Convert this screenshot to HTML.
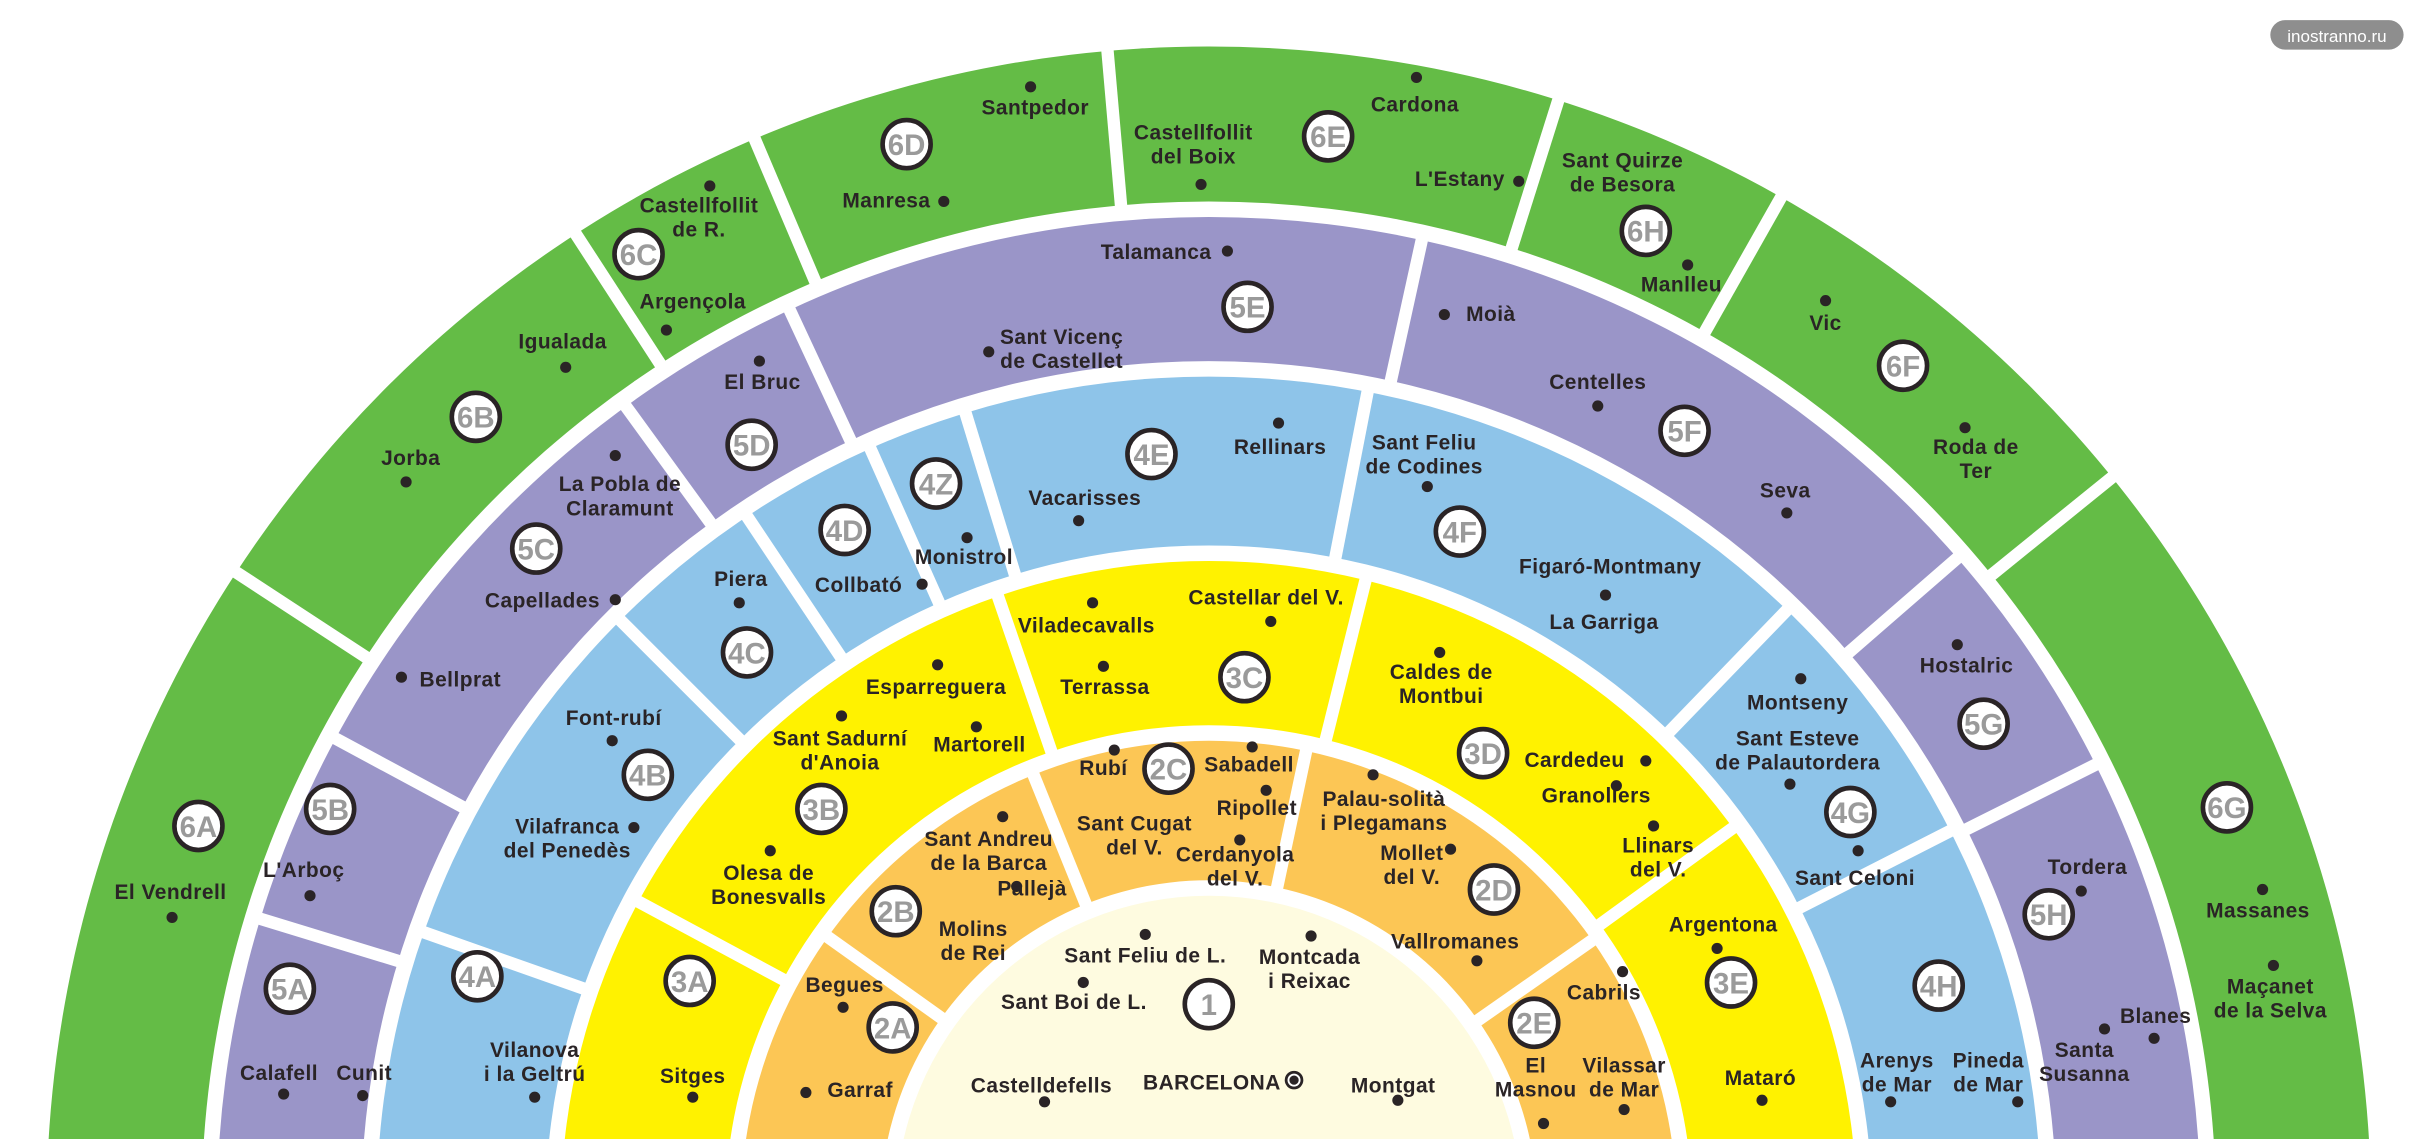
<!DOCTYPE html>
<html><head><meta charset="utf-8"><style>
html,body{margin:0;padding:0;background:#fff;overflow:hidden;width:2430px;height:1139px;}
svg{display:block;}
text{font-family:"Liberation Sans",sans-serif;font-weight:bold;fill:#2a2426;font-size:13.5px;letter-spacing:0.3px;}
</style></head><body>
<svg id="s" width="2430" height="1139" viewBox="0 0 1568 735" xmlns="http://www.w3.org/2000/svg">
<rect width="1568" height="735" fill="#fff"/>
<g id="rings"></g><g id="seps"></g><g id="dots"></g><g id="txt"></g><g id="lbl"></g>
<rect x="1465" y="13" width="86" height="19" rx="9.5" fill="#8e8e8e"/>
<text x="1508" y="27" text-anchor="middle" style="fill:#fff;font-weight:normal;font-size:11px;letter-spacing:0">inostranno.ru</text>
</svg>
<script>
const NS="http://www.w3.org/2000/svg",cx=780,cy=780;
function el(t,a,p){const e=document.createElementNS(NS,t);for(const k in a)e.setAttribute(k,a[k]);document.getElementById(p).appendChild(e);return e;}
function pt(r,a){a=a*Math.PI/180;return [cx+r*Math.cos(a),cy-r*Math.sin(a)];}
function wedge(r0,r1,a0,a1,c){const p1=pt(r1,a0),p2=pt(r1,a1),p3=pt(r0,a1),p4=pt(r0,a0);const L=(a1-a0)>180?1:0;
 el("path",{d:`M${p1}A${r1},${r1} 0 ${L} 0 ${p2}L${p3}A${r0},${r0} 0 ${L} 1 ${p4}Z`,fill:c},"rings");}
const G="#64bc46",P="#9a95c8",B="#8ec4e9",Y="#fff200",O="#fcc655",C="#fefbe0";
const rings=[[650,750,G,[146.8,123,113,95,72.5,60.5,39]],[547,640,P,[163,151.7,126,115,77.6,41,26.6]],
[428,537,B,[160.6,135,123.7,114,107,79,46,27]],[312,418,Y,[151.7,109,76,36]],[212,302,O,[144.5,112,78,35]]];
for(const [r0,r1,c,seps] of rings){wedge(r0,r1,-20,200,c);
 for(const a of seps){const p=pt(r0-3,a),q=pt(r1+3,a);el("line",{x1:p[0],y1:p[1],x2:q[0],y2:q[1],stroke:"#fff","stroke-width":8},"seps");}}
el("circle",{cx:cx,cy:cy,r:202,fill:C},"rings");
const T=[
["El Vendrell",110,580,111,592],["Igualada",363,225,365,237],["Jorba",265,300,262,311],
["Castellfollit|de R.",451,137,458,120],["Argençola",447,199,430,213],["Santpedor",668,74,665,56],["Manresa",572,134,609,130],
["Castellfollit|del Boix",770,90,775,119],["Cardona",913,72,914,50],["L'Estany",942,120,980,117],
["Sant Quirze|de Besora",1047,108,null],["Manlleu",1085,188,1089,171],["Vic",1178,213,1178,194],["Roda de|Ter",1275,293,1268,276],
["Massanes",1457,592,1460,574],["Maçanet|de la Selva",1465,641,1467,623],
["Calafell",180,697,183,706],["Cunit",235,697,234,707],["L'Arboç",196,566,200,578],
["La Pobla de|Claramunt",400,317,397,294],["Capellades",350,392,397,387],["Bellprat",297,443,259,437],
["El Bruc",492,251,490,233],["Talamanca",746,167,792,162],["Sant Vicenç|de Castellet",685,222,638,227],
["Moià",962,207,932,203],["Centelles",1031,251,1031,262],["Seva",1152,321,1153,331],["Hostalric",1269,434,1263,416],
["Tordera",1347,564,1343,575],["Blanes",1391,660,1390,670],["Santa|Susanna",1345,682,1358,664],
["Vilanova|i la Geltrú",345,682,345,708],["Font-rubí",396,468,395,478],["Vilafranca|del Penedès",366,538,409,534],
["Piera",478,378,477,389],["Collbató",554,382,595,377],["Monistrol",622,364,624,347],
["Vacarisses",700,326,696,336],["Rellinars",826,293,825,273],["Sant Feliu|de Codines",919,290,921,314],
["Figaró-Montmany",1039,370,null],["La Garriga",1035,406,1036,384],
["Montseny",1160,458,1162,438],["Sant Esteve|de Palautordera",1160,481,1155,506],["Sant Celoni",1197,571,1199,549],
["Arenys|de Mar",1224,689,1220,711],["Pineda|de Mar",1283,689,1302,711],
["Sitges",447,699,447,708],["Esparreguera",604,448,605,429],["Sant Sadurní|d'Anoia",542,481,543,462],
["Martorell",632,485,630,469],["Olesa de|Bonesvalls",496,568,497,549],
["Viladecavalls",701,408,705,389],["Castellar del V.",817,390,820,401],["Terrassa",713,448,712,430],
["Caldes de|Montbui",930,438,929,421],["Cardedeu",1016,495,1062,491],["Granollers",1030,518,1043,507],
["Llinars|del V.",1070,550,1067,533],["Argentona",1112,601,1108,612],["Mataró",1136,700,1137,710],
["Begues",545,640,544,650],["Garraf",555,708,520,705],["Sant Andreu|de la Barca",638,546,647,527],
["Pallejà",666,578,656,572],["Molins|de Rei",628,604,null],
["Rubí",712,500,719,484],["Sabadell",806,498,808,482],["Sant Cugat|del V.",732,536,null],
["Ripollet",811,526,817,510],["Cerdanyola|del V.",797,556,800,542],
["Palau-solità|i Plegamans",893,520,886,500],["Mollet|del V.",911,555,936,548],["Vallromanes",939,612,953,620],
["Cabrils",1035,645,1047,627],["El|Masnou",991,692,996,725],["Vilassar|de Mar",1048,692,1048,716],
["Sant Feliu de L.",739,621,739,603],["Sant Boi de L.",693,651,699,634],["Montcada|i Reixac",845,622,846,604],
["Castelldefells",672,705,674,711],["BARCELONA",782,703,null],["Montgat",899,705,902,710]];
for(const [s,x,y,dx,dy] of T){const t=el("text",{x:x,y:y,"text-anchor":"middle"},"txt");
 s.split("|").forEach((l,i)=>{const ts=document.createElementNS(NS,"tspan");ts.setAttribute("x",x);ts.setAttribute("dy",i?15.5:0);ts.textContent=l;t.appendChild(ts);});
 if(dx!=null)el("circle",{cx:dx,cy:dy,r:3.6,fill:"#2a2426"},"dots");}
el("circle",{cx:835,cy:697,r:6,fill:"#2a2426"},"dots");el("circle",{cx:835,cy:697,r:4.2,fill:"#fff"},"dots");el("circle",{cx:835,cy:697,r:3,fill:"#2a2426"},"dots");
const L=[["6A",128,533],["6B",307,269],["6C",412,164],["6D",585,93],["6E",857,88],["6H",1062,149],["6F",1228,236],["6G",1437,521],
["5A",187,638],["5B",213,522],["5C",346,354],["5D",485,287],["5E",805,198],["5F",1087,278],["5G",1280,467],["5H",1322,590],
["4A",308,630],["4B",418,500],["4C",482,421],["4D",545,342],["4Z",604,312],["4E",743,293],["4F",942,343],["4G",1194,524],["4H",1251,636],
["3A",445,633],["3B",530,522],["3C",803,437],["3D",957,486],["3E",1117,634],
["2A",576,663],["2B",578,588],["2C",754,496],["2D",964,574],["2E",990,660],["1",780,648]];
for(const [s,x,y] of L){el("circle",{cx:x,cy:y,r:15.5,fill:"#fff",stroke:"#2a2426","stroke-width":3},"lbl");
 const t=el("text",{x:x,y:y+7,"text-anchor":"middle",style:"fill:#9a9a9a;font-size:19px;letter-spacing:0"},"lbl");t.textContent=s;}
</script>
</body></html>
